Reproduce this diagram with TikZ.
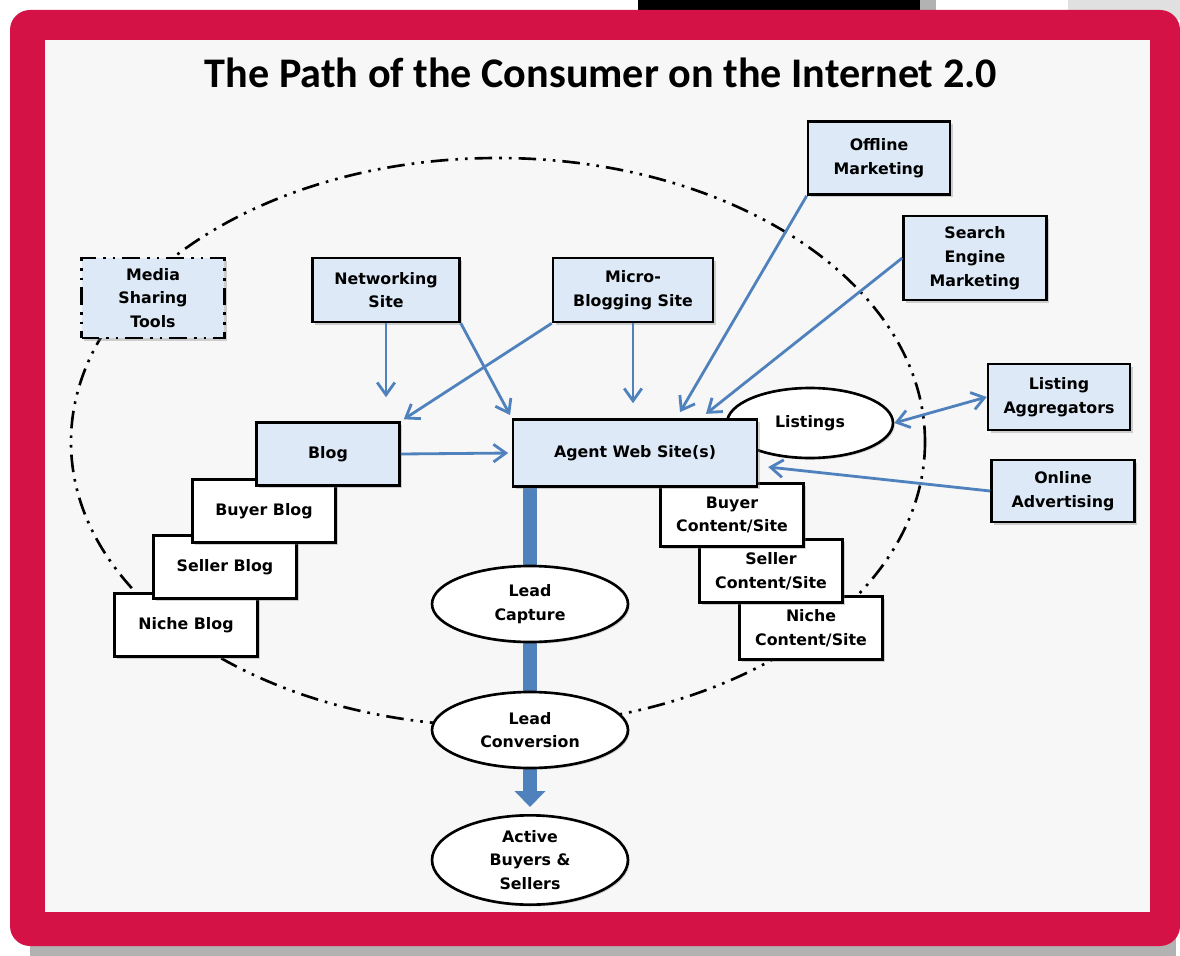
\documentclass[tikz,border=0pt]{standalone}
\usepackage{fontspec}
\setmainfont{DejaVu Sans}
\newfontfamily\titlefont{Carlito}
\usepackage{tikz}
\usetikzlibrary{arrows.meta,shapes.geometric,shadows,backgrounds}
\pgfdeclarelayer{bars}
\pgfsetlayers{background,bars,main}
\definecolor{framered}{RGB}{212,18,70}
\definecolor{panelgray}{RGB}{247,247,247}
\definecolor{boxblue}{RGB}{221,233,247}
\definecolor{arrowblue}{RGB}{79,129,189}
\tikzset{every picture/.style={line width=1.5pt}}
\tikzset{box/.style={draw, rectangle, fill=boxblue, minimum width=2.86cm, minimum height=1.26cm, align=center, font=\bfseries\fontsize{9}{13.5}\selectfont, drop shadow={shadow xshift=1.5pt, shadow yshift=-1.5pt, opacity=0.35}}}
\tikzset{plain/.style={box, fill=white}}
\tikzset{oval/.style={draw, ellipse, fill=white, minimum width=3.92cm, minimum height=1.52cm, inner sep=1pt, align=center, font=\bfseries\fontsize{9}{13.5}\selectfont, drop shadow={shadow xshift=1pt, shadow yshift=-1pt, opacity=0.3}}}
\tikzset{rim/.style={line width=1.5pt, dash pattern=on 10pt off 4pt on 1.5pt off 4pt on 1.5pt off 4pt}}
\tikzset{flow/.style={draw=arrowblue, line width=1.6pt, >={Straight Barb[length=7pt,width=10pt]}}}

\begin{document}
\begin{tikzpicture}[x=0.02cm, y=-0.02cm]
\useasboundingbox (0,0) rectangle (1180,956);
\begin{scope}[on background layer]
\fill[white] (0,0) rectangle (1180,956);
\fill[black!30] (30,930) rectangle (1176,956);
\fill[black] (638,0) rectangle (920,12);
\fill[black!30] (920,0) rectangle (936,12);
\fill[black!12] (1068,0) rectangle (1180,20);
\fill[framered, rounded corners=0.4cm] (10,10) rectangle (1180,946);
\fill[panelgray] (45,40) rectangle (1150,912);
\end{scope}

\node[font=\titlefont\bfseries\fontsize{24}{28}\selectfont] (title) at (601,73) {The Path of the Consumer on the Internet 2.0};
\draw[rim] (498,442) ellipse [x radius=427, y radius=284];

\node[box, minimum width=2.84cm, minimum height=1.46cm] (offline) at (879,158) {Offline\\Marketing};
\node[box, minimum height=1.68cm] (sem) at (975,258) {Search\\Engine\\Marketing};
\node[box, rim, minimum height=1.6cm] (media) at (153,298) {Media\\Sharing\\Tools};
\node[box, minimum width=2.94cm, minimum height=1.28cm] (net) at (386,290) {Networking\\Site};
\node[box, minimum width=3.2cm, minimum height=1.28cm] (micro) at (633,290) {Micro-\\Blogging Site};
\node[box, minimum width=2.84cm, minimum height=1.32cm] (aggr) at (1059,397) {Listing\\Aggregators};
\node[box, minimum height=1.24cm] (online) at (1063,491) {Online\\Advertising};

\foreach \n/\x/\y in {Niche/186/625, Seller/225/567, Buyer/264/511}
    \node[plain] (blog-\n) at (\x,\y) {\n{} Blog};
\node[box] (blog) at (328,454) {Blog};

\foreach \n/\x/\y in {Niche/811/628, Seller/771/571, Buyer/732/515}
    \node[plain] (site-\n) at (\x,\y) {\n\\Content/Site};
\node[oval, minimum width=3.32cm, minimum height=1.4cm] (listings) at (810,423) {Listings};
\node[box, minimum width=4.88cm, minimum height=1.34cm] (agent) at (635,453) {Agent Web Site(s)};

\node[oval] (capture) at (530,604) {Lead\\Capture};
\node[oval] (conversion) at (530,730) {Lead\\Conversion};
\node[oval, minimum height=1.6cm] (active) at (530,860) {Active\\Buyers \&\\Sellers};

\begin{pgfonlayer}{bars}
\draw[arrowblue, line width=0.28cm, shorten >=0.14cm, -{Triangle[length=0.32cm, width=0.6cm]}] (agent.south -| capture.center) -- (active.north);
\end{pgfonlayer}

\draw[flow, ->, shorten >=0.48cm] (net.south) -- (net.south |- blog.north);
\draw[flow, ->, shorten >=2pt] (net.south east) -- (agent.north west);
\draw[flow, ->, shorten >=2pt] (micro.south west) -- (blog.north east);
\draw[flow, ->, shorten >=0.3cm] (micro.south) -- (micro.south |- agent.north);
\draw[flow, ->, shorten >=0.14cm] (offline.south west) -- (agent.40);
\draw[flow, ->, shorten >=0.14cm] (sem.west) -- (agent.28);
\draw[flow, <->] (listings.east) -- (aggr.west);
\draw[flow, ->, shorten >=0.2cm] (online.west) -- (agent.-6);
\draw[flow, ->, shorten >=2pt] (blog.east) -- (agent.west);
\end{tikzpicture}
\end{document}
